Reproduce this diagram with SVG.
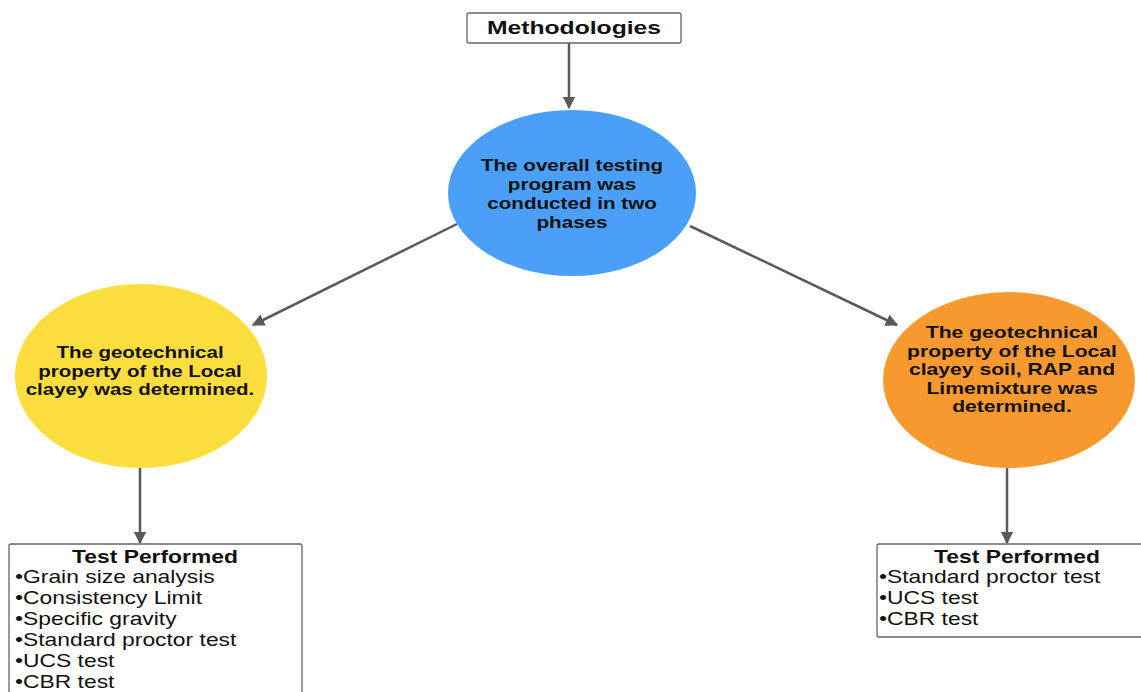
<svg xmlns="http://www.w3.org/2000/svg" width="1141" height="692" viewBox="0 0 1141 692">
<style>
.box{fill:#fff;stroke:#666;stroke-width:1.3}
.lbl{font-family:"Liberation Sans",Arial,sans-serif;font-weight:bold;fill:#111;text-anchor:middle}
.item{font-family:"Liberation Sans",Arial,sans-serif;font-size:18px;fill:#111}
.conn{stroke:#595959;stroke-width:2.5;fill:none;marker-end:url(#ah)}
</style>
<defs>
<marker id="ah" viewBox="0 0 10 10" refX="9" refY="5" markerWidth="5" markerHeight="5" orient="auto" markerUnits="strokeWidth">
<path d="M0,0 L10,5 L0,10 z" fill="#595959"/>
</marker>
</defs>
<rect width="1141" height="692" fill="#fff"/>
<g id="connectors">
<line class="conn" x1="569" y1="43" x2="569" y2="108"/>
<line class="conn" x1="457" y1="224" x2="253" y2="325"/>
<line class="conn" x1="690" y1="226" x2="897" y2="325"/>
<line class="conn" x1="140" y1="467" x2="140" y2="543"/>
<line class="conn" x1="1007" y1="468" x2="1007" y2="543"/>
</g>
<g id="methodologies">
<rect class="box" x="467" y="13" width="214" height="30" rx="2"/>
<text class="lbl" transform="translate(574,0) scale(1.3,1)" x="0" y="34" font-size="19">Methodologies</text>
</g>
<g id="phases">
<ellipse cx="572" cy="193" rx="124" ry="83" fill="#4a9ff7"/>
<text class="lbl" font-size="16" transform="translate(572,0) scale(1.29,1)"><tspan x="0" y="171">The overall testing</tspan><tspan x="0" y="190">program was</tspan><tspan x="0" y="209">conducted in two</tspan><tspan x="0" y="228">phases</tspan></text>
</g>
<g id="phase1">
<ellipse cx="141" cy="376" rx="126" ry="92" fill="#fbdd3e"/>
<text class="lbl" font-size="16" transform="translate(140,0) scale(1.28,1)"><tspan x="0" y="358">The geotechnical</tspan><tspan x="0" y="377">property of the Local</tspan><tspan x="0" y="395">clayey was determined.</tspan></text>
</g>
<g id="phase2">
<ellipse cx="1009" cy="380" rx="126" ry="88" fill="#f8992f"/>
<text class="lbl" font-size="16" transform="translate(1012,0) scale(1.32,1)"><tspan x="0" y="338">The geotechnical</tspan><tspan x="0" y="357">property of the Local</tspan><tspan x="0" y="375">clayey soil, RAP and</tspan><tspan x="0" y="394">Limemixture was</tspan><tspan x="0" y="412">determined.</tspan></text>
</g>
<g id="tests1">
<rect class="box" x="9" y="544" width="293" height="160" rx="2"/>
<text class="lbl" transform="translate(155,0) scale(1.27,1)" x="0" y="563" font-size="18">Test Performed</text>
<text class="item" transform="translate(15,0) scale(1.27,1)"><tspan x="0" y="583">•Grain size analysis</tspan><tspan x="0" y="604">•Consistency Limit</tspan><tspan x="0" y="625">•Specific gravity</tspan><tspan x="0" y="646">•Standard proctor test</tspan><tspan x="0" y="667">•UCS test</tspan><tspan x="0" y="688">•CBR test</tspan></text>
</g>
<g id="tests2">
<rect class="box" x="877" y="544" width="270" height="93" rx="2"/>
<text class="lbl" transform="translate(1017,0) scale(1.27,1)" x="0" y="563" font-size="18">Test Performed</text>
<text class="item" transform="translate(879,0) scale(1.27,1)"><tspan x="0" y="583">•Standard proctor test</tspan><tspan x="0" y="604">•UCS test</tspan><tspan x="0" y="625">•CBR test</tspan></text>
</g>
</svg>
